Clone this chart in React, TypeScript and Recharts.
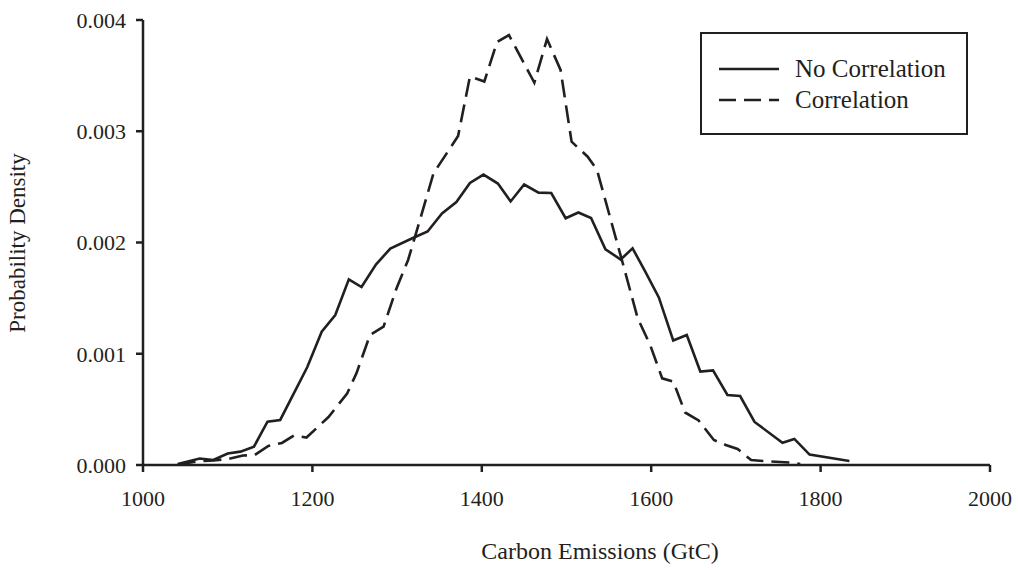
import React from 'react';
import { LineChart, Line, XAxis, YAxis } from 'recharts';

// Probability density of carbon emissions
const noCorrX = [1041, 1067, 1083, 1100, 1115, 1131, 1147, 1162, 1194, 1211, 1227, 1243, 1258, 1275, 1292, 1318, 1336, 1353, 1370, 1386, 1402, 1419, 1434, 1450, 1467, 1482, 1499, 1514, 1529, 1546, 1564, 1578, 1593, 1609, 1626, 1642, 1658, 1673, 1690, 1705, 1722, 1755, 1769, 1787, 1834];
const noCorrY = [0.000009, 0.000058, 0.000045, 0.000103, 0.00012, 0.000165, 0.000389, 0.000405, 0.000881, 0.001198, 0.001348, 0.001669, 0.0016, 0.001802, 0.001946, 0.002038, 0.002099, 0.002261, 0.002364, 0.002535, 0.002611, 0.00253, 0.002369, 0.002521, 0.002448, 0.002445, 0.002218, 0.00227, 0.00222, 0.001939, 0.001847, 0.001948, 0.001738, 0.001506, 0.001119, 0.001169, 0.00084, 0.00085, 0.000629, 0.00062, 0.000387, 0.0002, 0.000234, 0.000093, 0.000036];

const corrX = [1041, 1067, 1083, 1103, 1118, 1132, 1148, 1164, 1178, 1193, 1219, 1241, 1252, 1268, 1284, 1299, 1313, 1328, 1343, 1372, 1386, 1403, 1418, 1432, 1462, 1477, 1493, 1506, 1525, 1536, 1552, 1567, 1584, 1599, 1613, 1626, 1640, 1656, 1674, 1688, 1702, 1718, 1732, 1764, 1776];
const corrY = [0.000004, 0.000036, 0.00004, 0.000058, 0.000085, 0.00009, 0.000171, 0.000198, 0.000265, 0.000247, 0.000431, 0.000643, 0.000824, 0.001169, 0.001243, 0.001582, 0.001843, 0.002229, 0.002622, 0.002957, 0.003492, 0.003447, 0.003802, 0.003865, 0.003437, 0.003829, 0.003551, 0.002906, 0.002771, 0.002652, 0.002211, 0.001798, 0.001321, 0.001074, 0.000779, 0.000751, 0.000472, 0.0004, 0.000225, 0.00018, 0.000144, 0.000045, 0.000036, 0.000022, 0.000009];

const xTicks = [1000, 1200, 1400, 1600, 1800, 2000];
const yTicks = [0, 0.001, 0.002, 0.003, 0.004];

const seriesNames = ['No Correlation', 'Correlation'];

const INK = '#231f20';
const FONT = '"Liberation Serif", "Times New Roman", serif';

const noCorrData = noCorrX.map((x, i) => ({ x, y: noCorrY[i] }));
const corrData = corrX.map((x, i) => ({ x, y: corrY[i] }));

const tickStyle = { fill: INK, fontSize: 22, fontFamily: FONT };

const App: React.FC = () => {
  return (
    <div style={{ position: 'absolute', left: 0, top: 0, width: 1018, height: 570, background: '#fff' }}>
      <LineChart width={1018} height={570} margin={{ top: 20, right: 28, left: 0, bottom: 0 }}>
        <XAxis
          type="number"
          dataKey="x"
          domain={[1000, 2000]}
          ticks={xTicks}
          allowDataOverflow
          height={105}
          tick={tickStyle}
          tickSize={7}
          tickMargin={18}
          axisLine={{ stroke: INK, strokeWidth: 2.5 }}
          tickLine={{ stroke: INK, strokeWidth: 2.5 }}
          label={{
            content: () => (
              <text x={600} y={559} textAnchor="middle" fill={INK} fontSize={24} fontFamily={FONT}>
                Carbon Emissions (GtC)
              </text>
            ),
          }}
        />
        <XAxis
          xAxisId="top"
          orientation="top"
          type="number"
          domain={[1000, 2000]}
          height={0}
          tick={false}
          tickLine={false}
          axisLine={{ stroke: INK, strokeWidth: 2.5 }}
        />
        <YAxis
          type="number"
          domain={[0, 0.004]}
          ticks={yTicks}
          width={143}
          tick={tickStyle}
          tickSize={7}
          tickMargin={10}
          tickFormatter={(v: number) => v.toFixed(3)}
          axisLine={{ stroke: INK, strokeWidth: 2.5 }}
          tickLine={{ stroke: INK, strokeWidth: 2.5 }}
          label={{
            content: () => (
              <text
                x={25}
                y={243}
                transform="rotate(-90 25 243)"
                textAnchor="middle"
                fill={INK}
                fontSize={23}
                fontFamily={FONT}
              >
                Probability Density
              </text>
            ),
          }}
        />
        <YAxis
          yAxisId="right"
          orientation="right"
          domain={[0, 0.004]}
          width={0}
          tick={false}
          tickLine={false}
          axisLine={{ stroke: INK, strokeWidth: 2.5 }}
        />
        <Line
          data={noCorrData}
          dataKey="y"
          name={seriesNames[0]}
          type="linear"
          stroke={INK}
          strokeWidth={2.6}
          dot={false}
          isAnimationActive={false}
        />
        <Line
          data={corrData}
          dataKey="y"
          name={seriesNames[1]}
          type="linear"
          stroke={INK}
          strokeWidth={2.6}
          strokeDasharray="18 8"
          dot={false}
          isAnimationActive={false}
        />
      </LineChart>

      {/* legend box, top right inside the plot */}
      <div
        style={{
          position: 'absolute',
          left: 700,
          top: 32,
          width: 264,
          height: 99,
          border: `2.5px solid ${INK}`,
          fontFamily: FONT,
          fontSize: 25,
          color: INK,
        }}
      >
        {seriesNames.map((name, i) => (
          <div key={name} style={{ position: 'absolute', left: 16, top: 20 + i * 31, height: 30, display: 'flex', alignItems: 'center' }}>
            <svg width={62} height={10} style={{ marginRight: 15 }}>
              <line x1={1} y1={5} x2={61} y2={5} stroke={INK} strokeWidth={2.6} strokeDasharray={i === 1 ? '17 8' : undefined} />
            </svg>
            <span style={{ lineHeight: '30px' }}>{name}</span>
          </div>
        ))}
      </div>
    </div>
  );
};

export default App;
